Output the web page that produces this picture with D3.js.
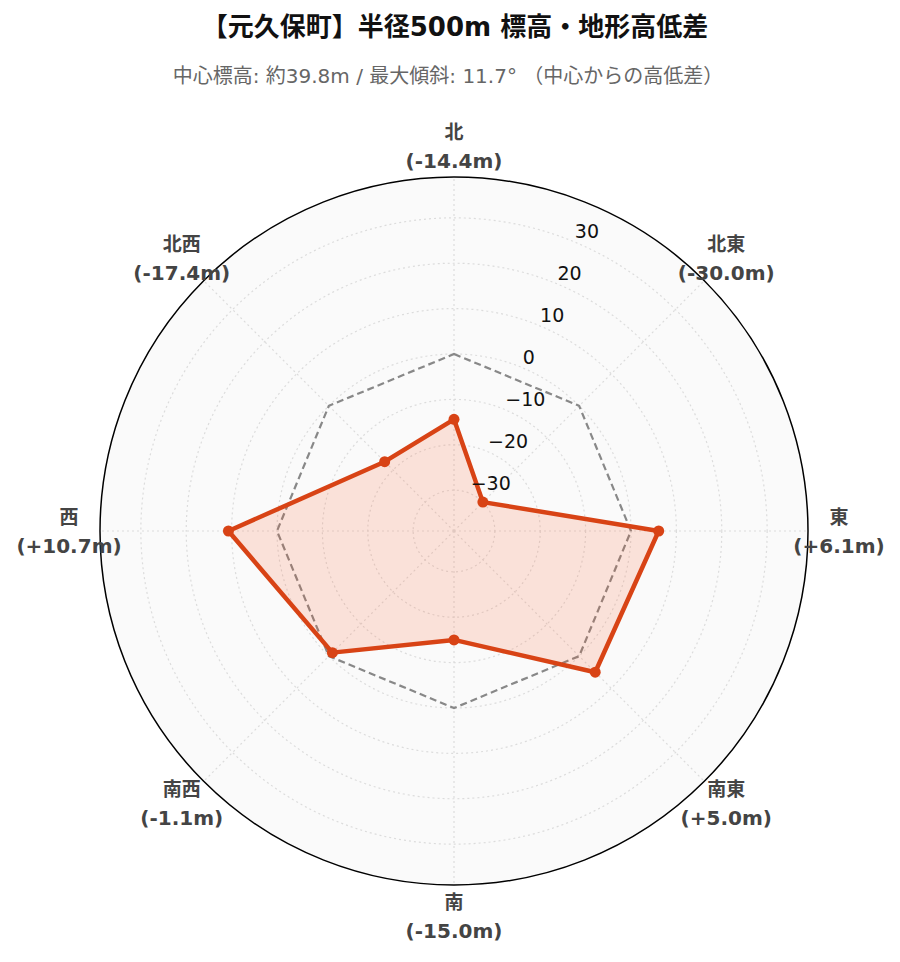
<!DOCTYPE html>
<html><head><meta charset="utf-8">
<script src="https://cdn.jsdelivr.net/npm/d3@7"></script>
<style>
body{margin:0;background:#fff;}
svg{display:block;}
</style></head>
<body>
<svg id="chart" width="900" height="962"></svg>
<script>
const titleText = "【元久保町】半径500m 標高・地形高低差";
const subtitleText = "中心標高: 約39.8m / 最大傾斜: 11.7° （中心からの高低差）";
const directions = ["北","北東","東","南東","南","南西","西","北西"];
const values = [-14.4, -30.0, 6.1, 5.0, -15.0, -1.1, 10.7, -17.4];
const reference = [0, 0, 0, 0, 0, 0, 0, 0];
const radialTicks = [-30, -20, -10, 0, 10, 20, 30];
const radialDomain = [-39, 39];

const svg = d3.select("#chart");
const cx = 454, cy = 531, R = 354;
const FONT = "'DejaVu Sans','Noto Sans CJK JP',sans-serif";

const r = d3.scaleLinear().domain(radialDomain).range([0, R]);
const angleOf = (d, i) => i * 45 * Math.PI / 180;
const px = (a, rad) => cx + rad * Math.sin(a);
const py = (a, rad) => cy - rad * Math.cos(a);

// Title
svg.append("text").attr("x", 455).attr("y", 27).attr("text-anchor", "middle")
  .attr("dominant-baseline", "central")
  .style("font-family", FONT).style("font-weight", "bold").style("font-size", "26px")
  .style("fill", "#111").text(titleText);
svg.append("text").attr("x", 448).attr("y", 76).attr("text-anchor", "middle")
  .attr("dominant-baseline", "central")
  .style("font-family", FONT).style("font-size", "20px")
  .style("fill", "#666").text(subtitleText);

const g = svg.append("g");
// background
g.append("circle").attr("cx", cx).attr("cy", cy).attr("r", R).attr("fill", "#fafafa");

// radial grid circles
g.selectAll("circle.grid").data(radialTicks).join("circle")
  .attr("class", "grid").attr("cx", cx).attr("cy", cy).attr("r", d => r(d))
  .attr("fill", "none").attr("stroke", "#dcdcdc").attr("stroke-width", 1.2)
  .attr("stroke-dasharray", "2,3");

// angular grid lines
g.selectAll("line.agrid").data(directions).join("line")
  .attr("class", "agrid")
  .attr("x1", cx).attr("y1", cy)
  .attr("x2", (d, i) => px(angleOf(d, i), R))
  .attr("y2", (d, i) => py(angleOf(d, i), R))
  .attr("stroke", "#dcdcdc").attr("stroke-width", 1.2).attr("stroke-dasharray", "2,3");

const line = d3.lineRadial()
  .angle((d, i) => angleOf(null, i))
  .radius(d => r(d))
  .curve(d3.curveLinearClosed);

// reference dashed polygon (0 m)
g.append("path").datum(reference)
  .attr("transform", `translate(${cx},${cy})`)
  .attr("d", line)
  .attr("fill", "none").attr("stroke", "#888").attr("stroke-width", 2.2)
  .attr("stroke-dasharray", "7,4");

// data polygon
g.append("path").datum(values)
  .attr("transform", `translate(${cx},${cy})`)
  .attr("d", line)
  .attr("fill", "rgba(255,87,34,0.15)")
  .attr("stroke", "#d84315").attr("stroke-width", 4.5).attr("stroke-linejoin", "round");

g.selectAll("circle.pt").data(values).join("circle")
  .attr("class", "pt")
  .attr("cx", (d, i) => px(angleOf(d, i), r(d)))
  .attr("cy", (d, i) => py(angleOf(d, i), r(d)))
  .attr("r", 5.5).attr("fill", "#d84315");

// outer circle
g.append("circle").attr("cx", cx).attr("cy", cy).attr("r", R)
  .attr("fill", "none").attr("stroke", "#000").attr("stroke-width", 1.5);

// radial tick labels along 22.5 deg
const tickAng = 22.5 * Math.PI / 180;
g.selectAll("text.rtick").data(radialTicks).join("text")
  .attr("class", "rtick")
  .attr("x", d => px(tickAng, r(d)) + 1)
  .attr("y", d => py(tickAng, r(d)) - 10.5)
  .attr("text-anchor", "start").attr("dominant-baseline", "central")
  .style("font-family", FONT).style("font-size", "19px").style("fill", "#111")
  .text(d => d < 0 ? "\u2212" + Math.abs(d) : String(d));

// angular labels
const fmt = v => "(" + (v > 0 ? "+" : v < 0 ? "-" : "") + Math.abs(v).toFixed(1) + "m)";
const labR = 385;
const lab = g.selectAll("g.alab").data(directions).join("g")
  .attr("class", "alab")
  .attr("transform", (d, i) => `translate(${px(angleOf(d, i), labR)},${py(angleOf(d, i), labR)})`);
lab.append("text").attr("y", -14.5).attr("text-anchor", "middle").attr("dominant-baseline", "central")
  .style("font-family", FONT).style("font-weight", "bold").style("font-size", "19px").style("fill", "#444")
  .text(d => d);
lab.append("text").attr("y", 14.5).attr("text-anchor", "middle").attr("dominant-baseline", "central")
  .style("font-family", FONT).style("font-weight", "bold").style("font-size", "20px").style("fill", "#444")
  .text((d, i) => fmt(values[i]));
</script>
</body></html>
